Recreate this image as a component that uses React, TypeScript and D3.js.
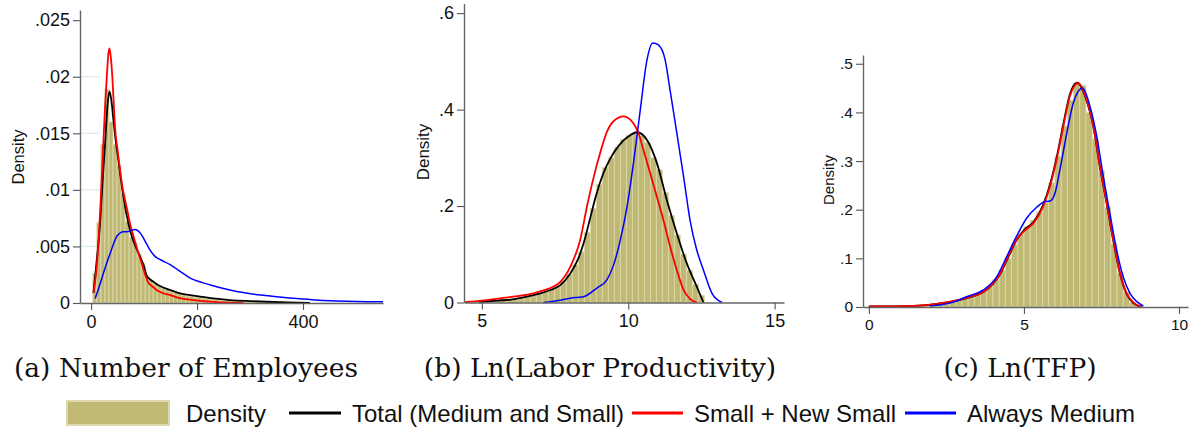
import { useEffect, useRef } from "react";
import * as d3 from "d3";

const W = 1193;
const H = 433;

// ---- (a) Number of Employees ----
const empBinStart = 3.2;
const empBinWidth = 7.6;
const empHist = [
  0.0026, 0.0071, 0.014, 0.0189, 0.016, 0.014, 0.0122, 0.0097, 0.0072, 0.0058,
  0.0053, 0.0043, 0.0035, 0.0024, 0.002, 0.0017, 0.0015, 0.0013, 0.0012, 0.001,
  0.0009, 0.0008, 0.0007, 0.0006, 0.0006, 0.0005, 0.0005, 0.0004, 0.0004, 0.0003,
  0.0003, 0.00025, 0.00022, 0.0002, 0.00018, 0.00015, 0.00013, 0.00012, 0.0001,
  0.0001, 0.00008, 0.00007, 0.00006, 0.00005, 0.00004, 0.00003,
];
const empTotal: [number, number][] = [
  [4.4, 0.0009], [10, 0.0035], [17, 0.0071], [22, 0.011], [26.4, 0.0141],
  [31, 0.0175], [34.6, 0.0187], [38, 0.018], [42, 0.0162], [46, 0.0145],
  [51.5, 0.0126], [56, 0.011], [61, 0.0094], [67, 0.0078], [73.6, 0.0064],
  [82, 0.0052], [92.5, 0.0041], [100, 0.0032], [105, 0.0024], [111, 0.0021],
  [120, 0.0018], [130, 0.0015], [149, 0.00115], [168, 0.00086], [190, 0.00068],
  [206, 0.00056], [230, 0.0004], [262, 0.00026], [300, 0.00017], [331, 0.00011],
  [370, 0.00005], [413, 0.00001],
];
const empSmall: [number, number][] = [
  [4.4, 0.0009], [9, 0.0025], [13.8, 0.0053], [18, 0.009], [23, 0.0141],
  [26.5, 0.0175], [29.6, 0.02], [32.5, 0.022], [34.6, 0.0225], [37, 0.0218],
  [40, 0.02], [42.5, 0.0178], [45, 0.0156], [50, 0.0135], [54.7, 0.0117],
  [60, 0.01], [67, 0.0085], [73, 0.0071], [80, 0.0059], [88, 0.0046],
  [95.6, 0.0035], [102, 0.0025], [108, 0.0018], [115, 0.0015], [125, 0.0011],
  [136, 0.00086], [149, 0.0007], [170, 0.0004], [193, 0.00026], [230, 0.0001],
  [260, 0.00003], [287, 0],
];
const empMedium: [number, number][] = [
  [7.5, 0.0004], [15, 0.0014], [23, 0.0026], [30, 0.0036], [36, 0.0044],
  [42, 0.0052], [48.5, 0.0059], [55, 0.0062], [61, 0.0063], [68, 0.0063],
  [75, 0.0064], [83, 0.0065], [88, 0.0064], [92.5, 0.0062], [98, 0.0058],
  [105, 0.0052], [111, 0.0047], [121, 0.0041], [132, 0.0038], [149, 0.0034],
  [168, 0.0028], [187, 0.0022], [210, 0.0018], [237, 0.00144], [260, 0.00118],
  [287, 0.00092], [320, 0.0007], [350, 0.00056], [375, 0.00045], [400, 0.00035],
  [430, 0.00025], [464, 0.00018], [500, 0.00013], [551, 0.0001],
];
const empXTicks = [0, 200, 400];
const empYTicks = [0, 0.005, 0.01, 0.015, 0.02, 0.025];

// ---- (b) Ln(Labor Productivity) ----
const prodBinStart = 4.4;
const prodBinWidth = 0.205;
const prodHist = [
  0.002, 0.002, 0.003, 0.003, 0.004, 0.005, 0.006, 0.007, 0.008, 0.01,
  0.012, 0.014, 0.018, 0.022, 0.027, 0.034, 0.044, 0.058, 0.078, 0.105,
  0.145, 0.195, 0.245, 0.28, 0.3, 0.322, 0.338, 0.347, 0.35, 0.346,
  0.332, 0.3, 0.275, 0.228, 0.18, 0.14, 0.1, 0.067, 0.038, 0.015,
];
const prodTotal: [number, number][] = [
  [4.9, 0.001], [5.5, 0.004], [6, 0.006], [6.54, 0.012], [7, 0.019],
  [7.34, 0.026], [7.68, 0.036], [8.02, 0.06], [8.3, 0.092], [8.5, 0.128],
  [8.7, 0.175], [8.9, 0.222], [9.15, 0.268], [9.4, 0.3], [9.7, 0.327],
  [10, 0.344], [10.3, 0.353], [10.64, 0.337], [10.98, 0.289], [11.32, 0.212],
  [11.66, 0.143], [12, 0.081], [12.34, 0.033], [12.57, 0],
];
const prodSmall: [number, number][] = [
  [4.44, 0.001], [5, 0.004], [5.63, 0.0087], [6.2, 0.013], [6.76, 0.019],
  [7.1, 0.025], [7.45, 0.033], [7.68, 0.043], [8.02, 0.074], [8.36, 0.13],
  [8.59, 0.199], [8.82, 0.26], [9.04, 0.31], [9.27, 0.354], [9.5, 0.376],
  [9.84, 0.386], [10.18, 0.371], [10.35, 0.351], [10.52, 0.316], [10.75, 0.268],
  [10.98, 0.219], [11.2, 0.171], [11.43, 0.116], [11.66, 0.067], [11.89, 0.026],
  [12.1, 0.008], [12.34, 0],
];
const prodMedium: [number, number][] = [
  [7.11, 0], [7.6, 0.004], [8.02, 0.009], [8.47, 0.012], [8.93, 0.03],
  [9.27, 0.047], [9.5, 0.078], [9.73, 0.13], [9.96, 0.199], [10.18, 0.29],
  [10.41, 0.399], [10.64, 0.503], [10.84, 0.538], [11.03, 0.534], [11.26, 0.503],
  [11.43, 0.44], [11.66, 0.351], [11.89, 0.261], [12.11, 0.171], [12.34, 0.109],
  [12.57, 0.067], [12.86, 0.019], [13.2, 0],
];
const prodXTicks = [5, 10, 15];
const prodYTicks = [0, 0.2, 0.4, 0.6];

// ---- (c) Ln(TFP) ----
const tfpBinStart = 0;
const tfpBinWidth = 0.2;
const tfpHist = [
  0.001, 0.001, 0.001, 0.001, 0.002, 0.002, 0.003, 0.003, 0.004, 0.005,
  0.006, 0.008, 0.01, 0.012, 0.015, 0.018, 0.022, 0.026, 0.032, 0.042,
  0.056, 0.075, 0.1, 0.128, 0.15, 0.165, 0.178, 0.195, 0.215, 0.255,
  0.31, 0.372, 0.425, 0.46, 0.455, 0.4, 0.345, 0.28, 0.205, 0.13,
  0.07, 0.03, 0.01, 0.003,
];
const tfpTotal: [number, number][] = [
  [0, 0.001], [1.1, 0.002], [1.86, 0.004], [2.61, 0.01], [3.26, 0.02],
  [3.69, 0.031], [4.01, 0.048], [4.23, 0.067], [4.44, 0.095], [4.76, 0.137],
  [5, 0.158], [5.3, 0.174], [5.62, 0.21], [5.84, 0.252], [6.05, 0.306],
  [6.27, 0.376], [6.48, 0.437], [6.72, 0.461], [7, 0.428], [7.24, 0.37],
  [7.45, 0.288], [7.67, 0.212], [7.88, 0.137], [8.1, 0.068], [8.31, 0.027],
  [8.53, 0.008], [8.8, 0],
];
const tfpSmall: [number, number][] = [
  [0, 0.001], [1.1, 0.002], [1.86, 0.004], [2.61, 0.011], [3.26, 0.021],
  [3.69, 0.031], [4.01, 0.049], [4.23, 0.068], [4.44, 0.097], [4.76, 0.138],
  [5, 0.156], [5.3, 0.172], [5.62, 0.207], [5.84, 0.248], [6.05, 0.302],
  [6.27, 0.371], [6.48, 0.433], [6.75, 0.46], [7.02, 0.426], [7.24, 0.371],
  [7.45, 0.289], [7.67, 0.213], [7.88, 0.138], [8.1, 0.069], [8.31, 0.028],
  [8.53, 0.009], [8.8, 0],
];
const tfpMedium: [number, number][] = [
  [1.97, 0.002], [2.61, 0.008], [3.15, 0.021], [3.69, 0.035], [4.12, 0.062],
  [4.44, 0.103], [4.76, 0.145], [5.09, 0.183], [5.41, 0.205], [5.68, 0.217],
  [5.84, 0.218], [6, 0.234], [6.16, 0.282], [6.38, 0.357], [6.59, 0.419],
  [6.89, 0.45], [7.13, 0.412], [7.35, 0.35], [7.56, 0.268], [7.77, 0.193],
  [7.99, 0.117], [8.2, 0.062], [8.42, 0.028], [8.64, 0.011], [8.85, 0.002],
];
const tfpXTicks = [0, 5, 10];
const tfpYTicks = [0, 0.1, 0.2, 0.3, 0.4, 0.5];

const captions = [
  "(a) Number of Employees",
  "(b) Ln(Labor Productivity)",
  "(c) Ln(TFP)",
];
const legendLabels = [
  "Density",
  "Total (Medium and Small)",
  "Small + New Small",
  "Always Medium",
];

const BAR_FILL = "#c0b974";
const BAR_EDGE = "#dedaae";
const LINE_COLORS = ["#000000", "#ff0000", "#0000ff"];
const SANS = "'Liberation Sans', Arial, sans-serif";

const fmtDensity = (d: number) =>
  d === 0 ? "0" : String(+d.toFixed(3)).replace(/^0\./, ".");

const panels = [
  {
    xDomain: [-21, 551], xRange: [80, 383],
    yDomain: [0, 0.0259], yRange: [303, 10],
    xTicks: empXTicks, yTicks: empYTicks,
    binStart: empBinStart, binWidth: empBinWidth, hist: empHist,
    lines: [empTotal, empSmall, empMedium],
    fontSize: 18, labelSize: 16.5, labelPos: [18, 157],
    grid: true, caption: captions[0], captionX: 186,
  },
  {
    xDomain: [4.39, 15.32], xRange: [464, 784],
    yDomain: [0, 0.62], yRange: [302.5, 3.5],
    xTicks: prodXTicks, yTicks: prodYTicks,
    binStart: prodBinStart, binWidth: prodBinWidth, hist: prodHist,
    lines: [prodTotal, prodSmall, prodMedium],
    fontSize: 18, labelSize: 17, labelPos: [423, 152],
    grid: false, caption: captions[1], captionX: 600,
  },
  {
    xDomain: [-0.19, 10.29], xRange: [863, 1188],
    yDomain: [0, 0.518], yRange: [307, 55],
    xTicks: tfpXTicks, yTicks: tfpYTicks,
    binStart: tfpBinStart, binWidth: tfpBinWidth, hist: tfpHist,
    lines: [tfpTotal, tfpSmall, tfpMedium],
    fontSize: 15.5, labelSize: 15, labelPos: [828, 180],
    grid: false, caption: captions[2], captionX: 1020,
  },
];

const Panel = ({ cfg }: { cfg: any }) => {
  const xRef = useRef<SVGGElement>(null);
  const yRef = useRef<SVGGElement>(null);

  const x = d3.scaleLinear().domain(cfg.xDomain).range(cfg.xRange);
  const y = d3.scaleLinear().domain(cfg.yDomain).range(cfg.yRange);

  const line = d3
    .line<[number, number]>()
    .x((d) => x(d[0]))
    .y((d) => y(d[1]))
    .curve(d3.curveMonotoneX);

  useEffect(() => {
    const gx = d3.select(xRef.current);
    gx.selectAll("*").remove();
    gx.call(
      d3
        .axisBottom(x)
        .tickValues(cfg.xTicks)
        .tickSize(7)
        .tickSizeOuter(0)
        .tickPadding(5)
        .tickFormat((d: any) => String(d))
    );

    const gy = d3.select(yRef.current);
    gy.selectAll("*").remove();
    gy.call(
      d3
        .axisLeft(y)
        .tickValues(cfg.yTicks)
        .tickSize(7)
        .tickSizeOuter(0)
        .tickPadding(3)
        .tickFormat((d: any) => fmtDensity(d))
    );

    [gx, gy].forEach((g) => {
      g.select(".domain").attr("stroke", "#666").attr("stroke-width", 1.4);
      g.selectAll(".tick line").attr("stroke", "#555").attr("stroke-width", 1.1);
      g.selectAll(".tick text")
        .attr("fill", "#111")
        .style("font-family", SANS)
        .style("font-size", `${cfg.fontSize}px`);
    });
  }, [cfg]);

  const y0 = y(0);

  return (
    <g>
      {cfg.grid &&
        cfg.yTicks
          .filter((t: number) => t > 0 && t < 0.025)
          .map((t: number) => (
            <line
              key={t}
              x1={cfg.xRange[0] + 1}
              x2={cfg.xRange[0] + 20}
              y1={y(t)}
              y2={y(t)}
              stroke="#dbe9ee"
              strokeWidth={1.2}
            />
          ))}
      {cfg.hist.map((h: number, i: number) => {
        const a = x(cfg.binStart + i * cfg.binWidth);
        const b = x(cfg.binStart + (i + 1) * cfg.binWidth);
        return (
          <rect
            key={i}
            x={a}
            y={y(h)}
            width={b - a}
            height={y0 - y(h)}
            fill={BAR_FILL}
            stroke={BAR_EDGE}
            strokeWidth={0.8}
          />
        );
      })}
      {cfg.lines.map((pts: [number, number][], i: number) => (
        <path
          key={i}
          d={line(pts) ?? ""}
          fill="none"
          stroke={LINE_COLORS[i]}
          strokeWidth={i === 2 ? 1.5 : 1.8}
          strokeLinejoin="round"
        />
      ))}
      <g ref={xRef} transform={`translate(0,${y0})`} />
      <g ref={yRef} transform={`translate(${cfg.xRange[0]},0)`} />
      <text
        transform={`translate(${cfg.labelPos[0]},${cfg.labelPos[1]}) rotate(-90)`}
        textAnchor="middle"
        dominantBaseline="central"
        fontFamily={SANS}
        fontSize={cfg.labelSize}
        fill="#111"
      >
        Density
      </text>
      <text
        x={cfg.captionX}
        y={377}
        textAnchor="middle"
        fontFamily="'DejaVu Serif', serif"
        fontSize={26.5}
        fill="#111"
      >
        {cfg.caption}
      </text>
    </g>
  );
};

const Legend = () => {
  const ly = 413;
  const lineItems = [
    { x1: 289, x2: 341, tx: 352, color: LINE_COLORS[0], label: legendLabels[1] },
    { x1: 632, x2: 683, tx: 694, color: LINE_COLORS[1], label: legendLabels[2] },
    { x1: 905, x2: 956, tx: 967, color: LINE_COLORS[2], label: legendLabels[3] },
  ];
  return (
    <g fontFamily={SANS} fontSize={24} fill="#111">
      <rect x={67} y={401} width={102} height={24} fill={BAR_FILL} stroke={BAR_EDGE} strokeWidth={2} />
      <text x={186} y={ly} dominantBaseline="central">
        {legendLabels[0]}
      </text>
      {lineItems.map((it) => (
        <g key={it.label}>
          <line x1={it.x1} x2={it.x2} y1={ly} y2={ly} stroke={it.color} strokeWidth={3} />
          <text x={it.tx} y={ly} dominantBaseline="central">
            {it.label}
          </text>
        </g>
      ))}
    </g>
  );
};

export default function App() {
  return (
    <svg
      width={W}
      height={H}
      style={{ position: "absolute", left: 0, top: 0, background: "#fff" }}
    >
      <rect width={W} height={H} fill="#fff" />
      {panels.map((p, i) => (
        <Panel key={i} cfg={p} />
      ))}
      <Legend />
    </svg>
  );
}
